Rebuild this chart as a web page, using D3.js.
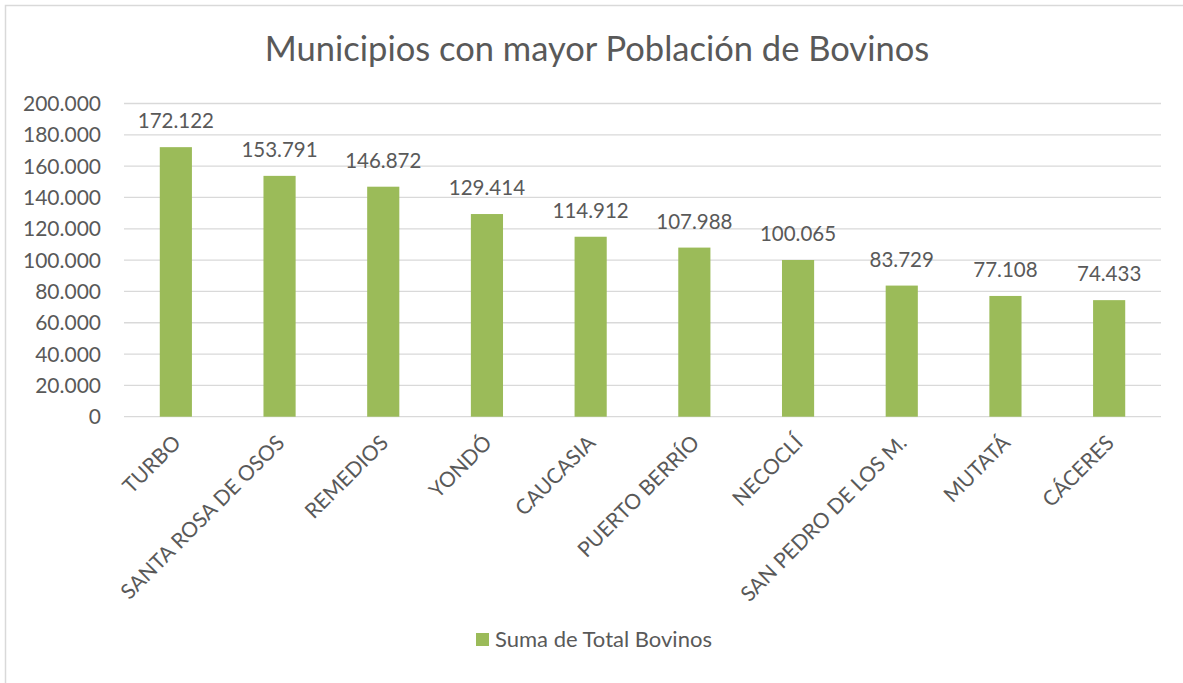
<!DOCTYPE html>
<meta charset="utf-8">
<style>
    body { margin: 0; background: #fff; }
    text { font-family: Lato, "Open Sans", sans-serif; fill: #595959; }
    .grid line { stroke: #d9d9d9; stroke-width: 1.3px; }
</style>
<body>
<svg width="1183" height="683"></svg>
<script src="https://d3js.org/d3.v7.min.js"></script>
<script>

    var municipios = ["TURBO", "SANTA ROSA DE OSOS", "REMEDIOS", "YONDÓ", "CAUCASIA",
        "PUERTO BERRÍO", "NECOCLÍ", "SAN PEDRO DE LOS M.", "MUTATÁ", "CÁCERES"];
    var bovinos = [172122, 153791, 146872, 129414, 114912, 107988, 100065, 83729, 77108, 74433];
    var yTicks = [0, 20000, 40000, 60000, 80000, 100000, 120000, 140000, 160000, 180000, 200000];
    var title = "Municipios con mayor Población de Bovinos";
    var serieName = "Suma de Total Bovinos";

    var svg = d3.select("svg");
    var green = "#9bbb59";

    // thousands with a dot, as in the original
    var fmt = function (v) { return d3.format(",")(v).replace(/,/g, "."); };

    // frame (only top and left are visible in the picture)
    svg.append("path")
        .attr("d", "M5.5,683 V5.5 H1183")
        .attr("fill", "none").attr("stroke", "#d9d9d9").attr("stroke-width", 1.5);

    var x = d3.scaleBand().domain(municipios).range([124, 1161]).paddingInner(0.69).paddingOuter(0.345);
    var y = d3.scaleLinear().domain([0, 200000]).range([416.7, 103.5]);

    svg.append("text")
        .attr("x", 597).attr("y", 61)
        .attr("text-anchor", "middle")
        .style("font-size", "34.5px")
        .text(title);

    // gridlines
    svg.append("g").attr("class", "grid")
        .selectAll("line").data(yTicks).enter().append("line")
        .attr("x1", 124).attr("x2", 1161)
        .attr("y1", function (d) { return y(d); })
        .attr("y2", function (d) { return y(d); });

    // y axis labels
    svg.append("g").selectAll("text").data(yTicks).enter().append("text")
        .attr("x", 101).attr("y", function (d) { return y(d); })
        .attr("dy", "0.36em")
        .attr("text-anchor", "end")
        .style("font-size", "21px")
        .text(function (d) { return fmt(d); });

    var bars = svg.append("g").selectAll("g").data(municipios).enter().append("g");

    bars.append("rect")
        .attr("x", function (d) { return x(d); })
        .attr("width", x.bandwidth())
        .attr("y", function (d, i) { return y(bovinos[i]); })
        .attr("height", function (d, i) { return y(0) - y(bovinos[i]); })
        .attr("fill", green);

    bars.append("text")
        .attr("x", function (d) { return x(d) + x.bandwidth() / 2; })
        .attr("y", function (d, i) { return y(bovinos[i]) - 19; })
        .attr("text-anchor", "middle")
        .style("font-size", "20.5px")
        .text(function (d, i) { return fmt(bovinos[i]); });

    // rotated category labels
    bars.append("text")
        .attr("transform", function (d) {
            return "translate(" + (x(d) + x.bandwidth() / 2 + 1) + ",439) rotate(-45)";
        })
        .attr("text-anchor", "end")
        .attr("dy", "0.35em")
        .style("font-size", "21px")
        .text(function (d) { return d; });

    // legend
    var legend = svg.append("g").attr("transform", "translate(476,633)");
    legend.append("rect").attr("width", 13).attr("height", 13).attr("fill", green);
    legend.append("text").attr("x", 19).attr("y", 6.5).attr("dy", "0.35em")
        .style("font-size", "22px")
        .text(serieName);

</script>
</body>
